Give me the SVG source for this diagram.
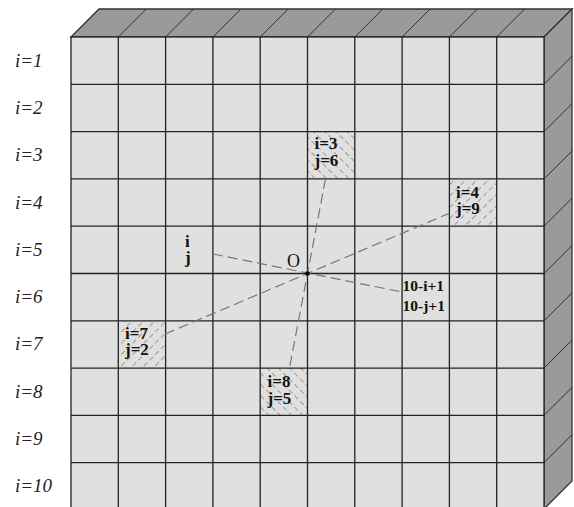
<svg xmlns="http://www.w3.org/2000/svg" width="574" height="507" viewBox="0 0 574 507">
<style>
.face{fill:#9a9a9a;stroke:#333;stroke-width:1.3}
.div{stroke:#333;stroke-width:1;fill:none}
.grid{stroke:#222;stroke-width:1.3;fill:none}
.rowlbl{font-family:"Liberation Serif",serif;font-style:italic;font-size:19px;fill:#222}
.cl{font-family:"Liberation Serif",serif;font-weight:bold;font-size:17px;fill:#111}
.sm{font-family:"Liberation Serif",serif;font-weight:bold;font-size:15.5px;fill:#111}
.conn{stroke:#777;stroke-width:1.2;stroke-dasharray:10 5;fill:none}
</style>
<defs>
<pattern id="hb" width="8" height="8" patternUnits="userSpaceOnUse" patternTransform="rotate(-45)">
<line x1="0" y1="0" x2="0" y2="8" stroke="#555" stroke-width="1" stroke-dasharray="5 3"/>
</pattern>
<pattern id="hf" width="8" height="8" patternUnits="userSpaceOnUse" patternTransform="rotate(45)">
<line x1="0" y1="0" x2="0" y2="8" stroke="#555" stroke-width="1" stroke-dasharray="5 3"/>
</pattern>
</defs>
<rect width="574" height="507" fill="#fff"/>
<g id="cube">
<polygon class="face" points="71,37 99,9 572,9 544,37"/>
<polygon class="face" points="544,37 572,9 572,481 544,509"/>
<g class="div">
<line x1="118.3" y1="37" x2="146.3" y2="9"/><line x1="165.6" y1="37" x2="193.6" y2="9"/>
<line x1="212.9" y1="37" x2="240.9" y2="9"/><line x1="260.2" y1="37" x2="288.2" y2="9"/>
<line x1="307.5" y1="37" x2="335.5" y2="9"/><line x1="354.8" y1="37" x2="382.8" y2="9"/>
<line x1="402.1" y1="37" x2="430.1" y2="9"/><line x1="449.4" y1="37" x2="477.4" y2="9"/>
<line x1="496.7" y1="37" x2="524.7" y2="9"/>
<line x1="544" y1="84.3" x2="572" y2="56.3"/><line x1="544" y1="131.6" x2="572" y2="103.6"/>
<line x1="544" y1="178.9" x2="572" y2="150.9"/><line x1="544" y1="226.2" x2="572" y2="198.2"/>
<line x1="544" y1="273.5" x2="572" y2="245.5"/><line x1="544" y1="320.8" x2="572" y2="292.8"/>
<line x1="544" y1="368.1" x2="572" y2="340.1"/><line x1="544" y1="415.4" x2="572" y2="387.4"/>
<line x1="544" y1="462.7" x2="572" y2="434.7"/>
</g>
</g>
<g id="grid">
<rect x="71" y="37" width="473" height="473" fill="#e0e0e0"/>
<g id="cell-i3-j6"><rect x="307.5" y="131.6" width="47.3" height="47.3" fill="url(#hb)"/></g>
<g id="cell-i4-j9"><rect x="449.4" y="178.9" width="47.3" height="47.3" fill="url(#hf)"/></g>
<g id="cell-i7-j2"><rect x="118.3" y="320.8" width="47.3" height="47.3" fill="url(#hf)"/></g>
<g id="cell-i8-j5"><rect x="260.2" y="368.1" width="47.3" height="47.3" fill="url(#hb)"/></g>
<g class="grid">
<rect x="71" y="37" width="473" height="473"/>
<path d="M118.3 37V510M165.6 37V510M212.9 37V510M260.2 37V510M307.5 37V510M354.8 37V510M402.1 37V510M449.4 37V510M496.7 37V510"/>
<path d="M71 84.3H544M71 131.6H544M71 178.9H544M71 226.2H544M71 273.5H544M71 320.8H544M71 368.1H544M71 415.4H544M71 462.7H544"/>
</g>
</g>
<g id="row-labels" class="rowlbl">
<text x="15" y="67">i=1</text>
<text x="15" y="114">i=2</text>
<text x="15" y="161">i=3</text>
<text x="15" y="209">i=4</text>
<text x="15" y="256">i=5</text>
<text x="15" y="303">i=6</text>
<text x="15" y="350">i=7</text>
<text x="15" y="398">i=8</text>
<text x="15" y="445">i=9</text>
<text x="15" y="492">i=10</text>
</g>
<g id="connectors">
<line class="conn" x1="213" y1="254" x2="402" y2="292"/>
<line class="conn" x1="165" y1="334" x2="449" y2="213.4"/>
<line class="conn" x1="325.5" y1="179" x2="289.5" y2="368"/>
</g>
<g id="labels">
<g id="lbl-i3-j6" class="cl"><text x="314.5" y="149">i=3</text><text x="314.5" y="165.5">j=6</text></g>
<g id="lbl-i4-j9" class="cl"><text x="456" y="198">i=4</text><text x="456" y="214">j=9</text></g>
<g id="lbl-i7-j2" class="cl"><text x="125" y="338.5">i=7</text><text x="125" y="355">j=2</text></g>
<g id="lbl-i8-j5" class="cl"><text x="267.5" y="387">i=8</text><text x="267.5" y="403.5">j=5</text></g>
<g id="lbl-ij" class="cl"><text x="185" y="247">i</text><text x="185" y="263">j</text></g>
<g id="lbl-mirror" class="sm"><text x="402.5" y="291">10-i+1</text><text x="402.5" y="311">10-j+1</text></g>
</g>
<g id="center-O">
<circle cx="307.5" cy="273.5" r="2.3" fill="#000"/>
<text x="287" y="266.5" style="font-family:'Liberation Serif',serif;font-size:18px;fill:#111">O</text>
</g>
</svg>
